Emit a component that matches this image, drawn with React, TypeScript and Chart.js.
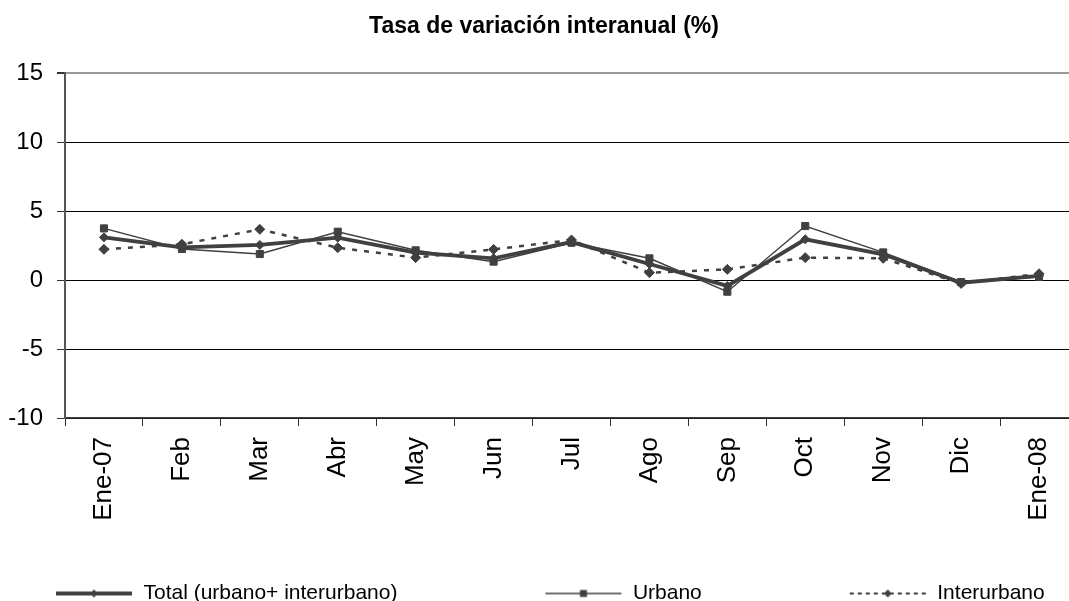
import React, { useEffect, useRef } from 'react';
import { Chart, registerables } from 'chart.js';

Chart.register(...registerables);

// ---------- data ----------
const categories = ['Ene-07', 'Feb', 'Mar', 'Abr', 'May', 'Jun', 'Jul', 'Ago', 'Sep', 'Oct', 'Nov', 'Dic', 'Ene-08'];
const totalValues = [3.09, 2.37, 2.54, 3.07, 1.98, 1.57, 2.75, 1.16, -0.43, 2.95, 1.86, -0.2, 0.3];
const urbanoValues = [3.74, 2.25, 1.88, 3.5, 2.15, 1.33, 2.7, 1.57, -0.85, 3.91, 2.0, -0.15, 0.22];
const interurbanoValues = [2.22, 2.59, 3.67, 2.34, 1.62, 2.22, 2.9, 0.53, 0.77, 1.62, 1.57, -0.25, 0.45];
const yTickValues = [-10, -5, 0, 5, 10, 15];
const seriesNames = ['Total (urbano+ interurbano)', 'Urbano', 'Interurbano'];
const chartTitle = 'Tasa de variación interanual (%)';

// ---------- style ----------
const FONT = "'Liberation Sans', Arial, Helvetica, sans-serif";
const INK = '#404040';
const SHIFT_X = 92;
const CANVAS_W = 2 * (544 + SHIFT_X);
const CANVAS_H = 614;
const PLOT_RIGHT = 1078;
const LEG_BOX = 163;
const LEG_PAD = 62;
const SAMPLE_LEN = 77;

type Kind = 'total' | 'urbano' | 'inter';

function makeSample(kind: Kind): HTMLCanvasElement {
  const c = document.createElement('canvas');
  c.width = LEG_BOX;
  c.height = 16;
  const g = c.getContext('2d')!;
  const x0 = LEG_BOX - SAMPLE_LEN;
  const x1 = LEG_BOX - 1;
  const y = 8;
  const mx = (x0 + x1) / 2;
  g.strokeStyle = INK;
  g.fillStyle = INK;
  g.beginPath();
  if (kind === 'total') {
    g.lineWidth = 4;
  } else if (kind === 'urbano') {
    g.lineWidth = 1.5;
  } else {
    g.lineWidth = 2;
    g.setLineDash([4, 4]);
  }
  g.moveTo(x0, y);
  g.lineTo(x1, y);
  g.stroke();
  g.setLineDash([]);
  g.beginPath();
  if (kind === 'urbano') {
    g.rect(mx - 3.5, y - 3.5, 7, 7);
  } else {
    const r = 4;
    g.moveTo(mx, y - r);
    g.lineTo(mx + r, y);
    g.lineTo(mx, y + r);
    g.lineTo(mx - r, y);
    g.closePath();
  }
  g.fill();
  return c;
}

export default function App() {
  const ref = useRef<HTMLCanvasElement | null>(null);

  useEffect(() => {
    if (!ref.current) return;
    const samples = [makeSample('total'), makeSample('urbano'), makeSample('inter')];

    const chart = new Chart(ref.current, {
      type: 'line',
      data: {
        labels: categories,
        datasets: [
          {
            label: seriesNames[0],
            data: totalValues,
            borderColor: INK,
            backgroundColor: INK,
            borderWidth: 3.8,
            pointStyle: 'rectRot',
            pointRadius: 4.5,
            pointBorderWidth: 1,
            pointBackgroundColor: INK,
            pointBorderColor: INK,
            tension: 0,
          },
          {
            label: seriesNames[1],
            data: urbanoValues,
            borderColor: INK,
            backgroundColor: INK,
            borderWidth: 1.5,
            pointStyle: 'rect',
            pointRadius: 5,
            pointBorderWidth: 1,
            pointBackgroundColor: INK,
            pointBorderColor: INK,
            tension: 0,
          },
          {
            label: seriesNames[2],
            data: interurbanoValues,
            borderColor: INK,
            backgroundColor: INK,
            borderWidth: 2.5,
            borderDash: [5, 7],
            pointStyle: 'rectRot',
            pointRadius: 5,
            pointBorderWidth: 1,
            pointBackgroundColor: INK,
            pointBorderColor: INK,
            tension: 0,
          },
        ],
      },
      options: {
        responsive: false,
        animation: false,
        events: [],
        layout: { padding: 0 },
        scales: {
          x: {
            type: 'category',
            offset: true,
            grid: {
              offset: true,
              drawOnChartArea: false,
              drawTicks: true,
              tickLength: 8,
              color: '#333',
              lineWidth: 1,
            },
            border: { display: true, color: '#404040', width: 1.5 },
            ticks: {
              autoSkip: false,
              minRotation: 90,
              maxRotation: 90,
              padding: 11,
              color: '#000',
              font: { family: FONT, size: 26 },
            },
            afterFit: (s: any) => {
              s.height = 103;
            },
          },
          y: {
            type: 'linear',
            position: 'left',
            min: yTickValues[0],
            max: yTickValues[yTickValues.length - 1],
            afterBuildTicks: (s: any) => {
              s.ticks = yTickValues.map((v) => ({ value: v }));
            },
            grid: {
              drawTicks: true,
              tickLength: 8,
              color: (c: any) => (c.tick && c.tick.value === yTickValues[yTickValues.length - 1] ? '#9a9a9a' : '#000'),
              lineWidth: (c: any) => (c.tick && c.tick.value === yTickValues[yTickValues.length - 1] ? 2 : 1),
              tickColor: '#333',
            },
            border: { display: true, color: '#555', width: 2 },
            ticks: {
              padding: 14,
              color: '#000',
              font: { family: FONT, size: 24 },
            },
            afterFit: (s: any) => {
              s.width = 65 + SHIFT_X;
            },
          },
          yr: {
            type: 'linear',
            position: 'right',
            display: true,
            grid: { display: false, drawTicks: false },
            border: { display: false },
            ticks: { display: false },
            afterFit: (s: any) => {
              s.width = CANVAS_W - SHIFT_X - PLOT_RIGHT;
            },
          },
        },
        plugins: {
          title: {
            display: true,
            text: chartTitle,
            color: '#000',
            font: { family: FONT, size: 23, weight: 'bold' },
            padding: { top: 13, bottom: 32.4 },
          },
          legend: {
            display: true,
            position: 'bottom',
            align: 'start',
            labels: {
              usePointStyle: true,
              pointStyleWidth: LEG_BOX,
              padding: LEG_PAD,
              color: '#000',
              font: { family: FONT, size: 21 },
              generateLabels: (ch: any) => {
                const items = Chart.defaults.plugins.legend.labels.generateLabels(ch);
                items.forEach((it: any, i: number) => {
                  it.pointStyle = samples[i];
                });
                return items;
              },
            },
          },
          tooltip: { enabled: false },
        },
      },
    });

    return () => chart.destroy();
  }, []);

  return (
    <div
      style={{
        position: 'fixed',
        left: 0,
        top: 0,
        width: 1069,
        height: 601,
        overflow: 'hidden',
        background: '#fff',
      }}
    >
      <canvas
        ref={ref}
        width={CANVAS_W}
        height={CANVAS_H}
        style={{ position: 'absolute', left: -SHIFT_X, top: 0, width: CANVAS_W, height: CANVAS_H, display: 'block' }}
      />
    </div>
  );
}
